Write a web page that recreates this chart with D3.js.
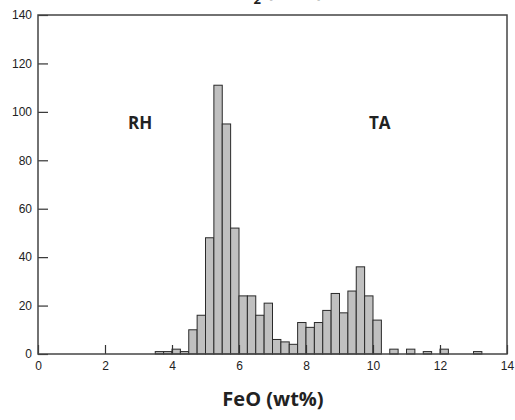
<!DOCTYPE html>
<html>
<head>
<meta charset="utf-8">
<script src="https://cdn.jsdelivr.net/npm/d3@7"></script>
<style>
  body { margin: 0; background: #fff; }
  svg { display: block; }
  .tick text { font-family: "Liberation Sans", Arial, sans-serif; font-size: 12px; fill: #222; }
</style>
</head>
<body>
<div class="canvas"></div>
<script>
// histogram data, bins 0.25 wt% wide, start value of each bin
const binStart = [3.0, 3.25, 3.5, 3.75, 4.0, 4.25, 4.5, 4.75, 5.0, 5.25, 5.5, 5.75,
    6.0, 6.25, 6.5, 6.75, 7.0, 7.25, 7.5, 7.75, 8.0, 8.25, 8.5, 8.75, 9.0, 9.25, 9.5, 9.75,
    10.0, 10.25, 10.5, 10.75, 11.0, 11.25, 11.5, 11.75, 12.0, 12.25, 12.5, 12.75, 13.0, 13.25, 13.5, 13.75];
const counts = [0, 0, 1, 1, 2, 1, 10, 16, 48, 111, 95, 52,
    24, 24, 16, 21, 6, 5, 4, 13, 11, 13, 18, 25, 17, 26, 36, 24,
    14, 0, 2, 0, 2, 0, 1, 0, 2, 0, 0, 0, 1, 0, 0, 0];
const binWidth = 0.25;
const xTicks = [0, 2, 4, 6, 8, 10, 12, 14];
const yTicks = [0, 20, 40, 60, 80, 100, 120, 140];
const groupLabels = [{name: 'RH', x: 3.05, y: 93}, {name: 'TA', x: 10.2, y: 93}];

const width = 515, height = 420;
const margin = {top: 15, right: 8, bottom: 66, left: 38};
const graphWidth = width - margin.left - margin.right;
const graphHeight = height - margin.top - margin.bottom;

const svg = d3.select('.canvas')
    .append('svg')
    .attr('width', width)
    .attr('height', height);

const graph = svg.append('g')
    .attr('transform', `translate(${margin.left}, ${margin.top})`);

const x = d3.scaleLinear().domain([0, 14]).range([0, graphWidth]);
const y = d3.scaleLinear().domain([0, 140]).range([graphHeight, 0]);

const data = binStart.map((b, i) => ({x0: b, x1: b + binWidth, n: counts[i]}));

// bars
graph.selectAll('rect.bar')
    .data(data)
    .enter()
    .append('rect')
        .attr('class', 'bar')
        .attr('x', d => x(d.x0))
        .attr('width', d => x(d.x1) - x(d.x0))
        .attr('y', d => y(d.n))
        .attr('height', d => y(0) - y(d.n))
        .attr('fill', '#c0c0c0')
        .attr('stroke', '#2a2a2a')
        .attr('stroke-width', 1);

// axes, ticks pointing inward
const xAxis = d3.axisBottom(x).tickValues(xTicks).tickSizeInner(-9).tickSizeOuter(0).tickPadding(7);
const yAxis = d3.axisLeft(y).tickValues(yTicks).tickSizeInner(-10).tickSizeOuter(0).tickPadding(6);

const xAxisGroup = graph.append('g')
    .attr('transform', `translate(0, ${graphHeight})`)
    .call(xAxis);
const yAxisGroup = graph.append('g').call(yAxis);

[xAxisGroup, yAxisGroup].forEach(g => {
    g.select('.domain').remove();
    g.selectAll('line').attr('stroke', '#333').attr('stroke-width', 1.2);
});

// frame
graph.append('rect')
    .attr('width', graphWidth)
    .attr('height', graphHeight)
    .attr('fill', 'none')
    .attr('stroke', '#444')
    .attr('stroke-width', 1.5);

// group labels
graph.selectAll('text.group')
    .data(groupLabels)
    .enter()
    .append('text')
        .attr('class', 'group')
        .attr('x', d => x(d.x))
        .attr('y', d => y(d.y))
        .attr('text-anchor', 'middle')
        .attr('font-family', '"Open Sans", sans-serif')
        .attr('font-weight', 'bold')
        .attr('font-size', 17)
        .attr('fill', '#222')
        .text(d => d.name);

// x title
svg.append('text')
    .attr('x', 273)
    .attr('y', 406)
    .attr('text-anchor', 'middle')
    .attr('font-family', '"Open Sans", sans-serif')
    .attr('font-weight', 'bold')
    .attr('font-size', 20)
    .attr('fill', '#222')
    .text('FeO (wt%)');

// title of the panel above, cut off by the top edge as in the source figure
const upperTitle = svg.append('text')
    .attr('x', 272)
    .attr('y', -3)
    .attr('text-anchor', 'middle')
    .attr('font-family', '"Open Sans", sans-serif')
    .attr('font-weight', 'bold')
    .attr('font-size', 20)
    .attr('fill', '#222');
upperTitle.append('tspan').text('SiO');
upperTitle.append('tspan').attr('font-size', 13).attr('dy', 7).text('2');
upperTitle.append('tspan').attr('dy', -7).text(' (wt%)');
</script>
</body>
</html>
